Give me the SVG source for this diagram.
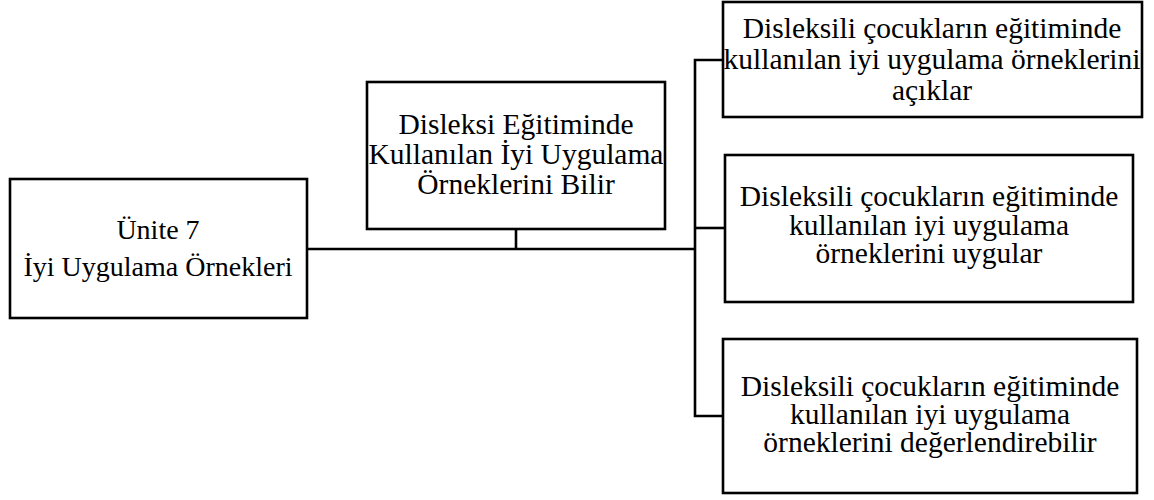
<svg xmlns="http://www.w3.org/2000/svg" width="1154" height="500" viewBox="0 0 1154 500">
  <style>
    .box { fill: #ffffff; stroke: #000000; stroke-width: 2.6; }
    .wire { fill: none; stroke: #000000; stroke-width: 2.6; }
    .lbl { font-family: "Liberation Serif", "Times New Roman", serif; font-size: 29.5px; fill: #000000; text-anchor: middle; }
    .big { font-size: 28px; }
  </style>
  <rect width="1154" height="500" fill="#ffffff"/>

  <!-- connectors -->
  <g id="connectors">
    <path class="wire" d="M307 249 H695"/>
    <path class="wire" d="M516 229 V249"/>
    <path class="wire" d="M723 60 H695 V416 H723"/>
    <path class="wire" d="M695 228 H725"/>
  </g>

  <g id="unit">
    <rect class="box" x="10" y="179" width="297" height="139"/>
    <text class="lbl big" x="158" y="239">Ünite 7</text>
    <text class="lbl big" x="158" y="276">İyi Uygulama Örnekleri</text>
  </g>

  <g id="goal">
    <rect class="box" x="367" y="82" width="298" height="147"/>
    <text class="lbl" x="516" y="134">Disleksi Eğitiminde</text>
    <text class="lbl" x="516" y="164">Kullanılan İyi Uygulama</text>
    <text class="lbl" x="516" y="194">Örneklerini Bilir</text>
  </g>

  <g id="outcome1">
    <rect class="box" x="723" y="2" width="419" height="115"/>
    <text class="lbl" x="932" y="38">Disleksili çocukların eğitiminde</text>
    <text class="lbl" x="932" y="69">kullanılan iyi uygulama örneklerini</text>
    <text class="lbl" x="932" y="100">açıklar</text>
  </g>

  <g id="outcome2">
    <rect class="box" x="725" y="155" width="408" height="147"/>
    <text class="lbl" x="929" y="206">Disleksili çocukların eğitiminde</text>
    <text class="lbl" x="929" y="235">kullanılan iyi uygulama</text>
    <text class="lbl" x="929" y="263">örneklerini uygular</text>
  </g>

  <g id="outcome3">
    <rect class="box" x="723" y="339" width="414" height="154"/>
    <text class="lbl" x="930" y="396">Disleksili çocukların eğitiminde</text>
    <text class="lbl" x="930" y="424">kullanılan iyi uygulama</text>
    <text class="lbl" x="930" y="452">örneklerini değerlendirebilir</text>
  </g>
</svg>
